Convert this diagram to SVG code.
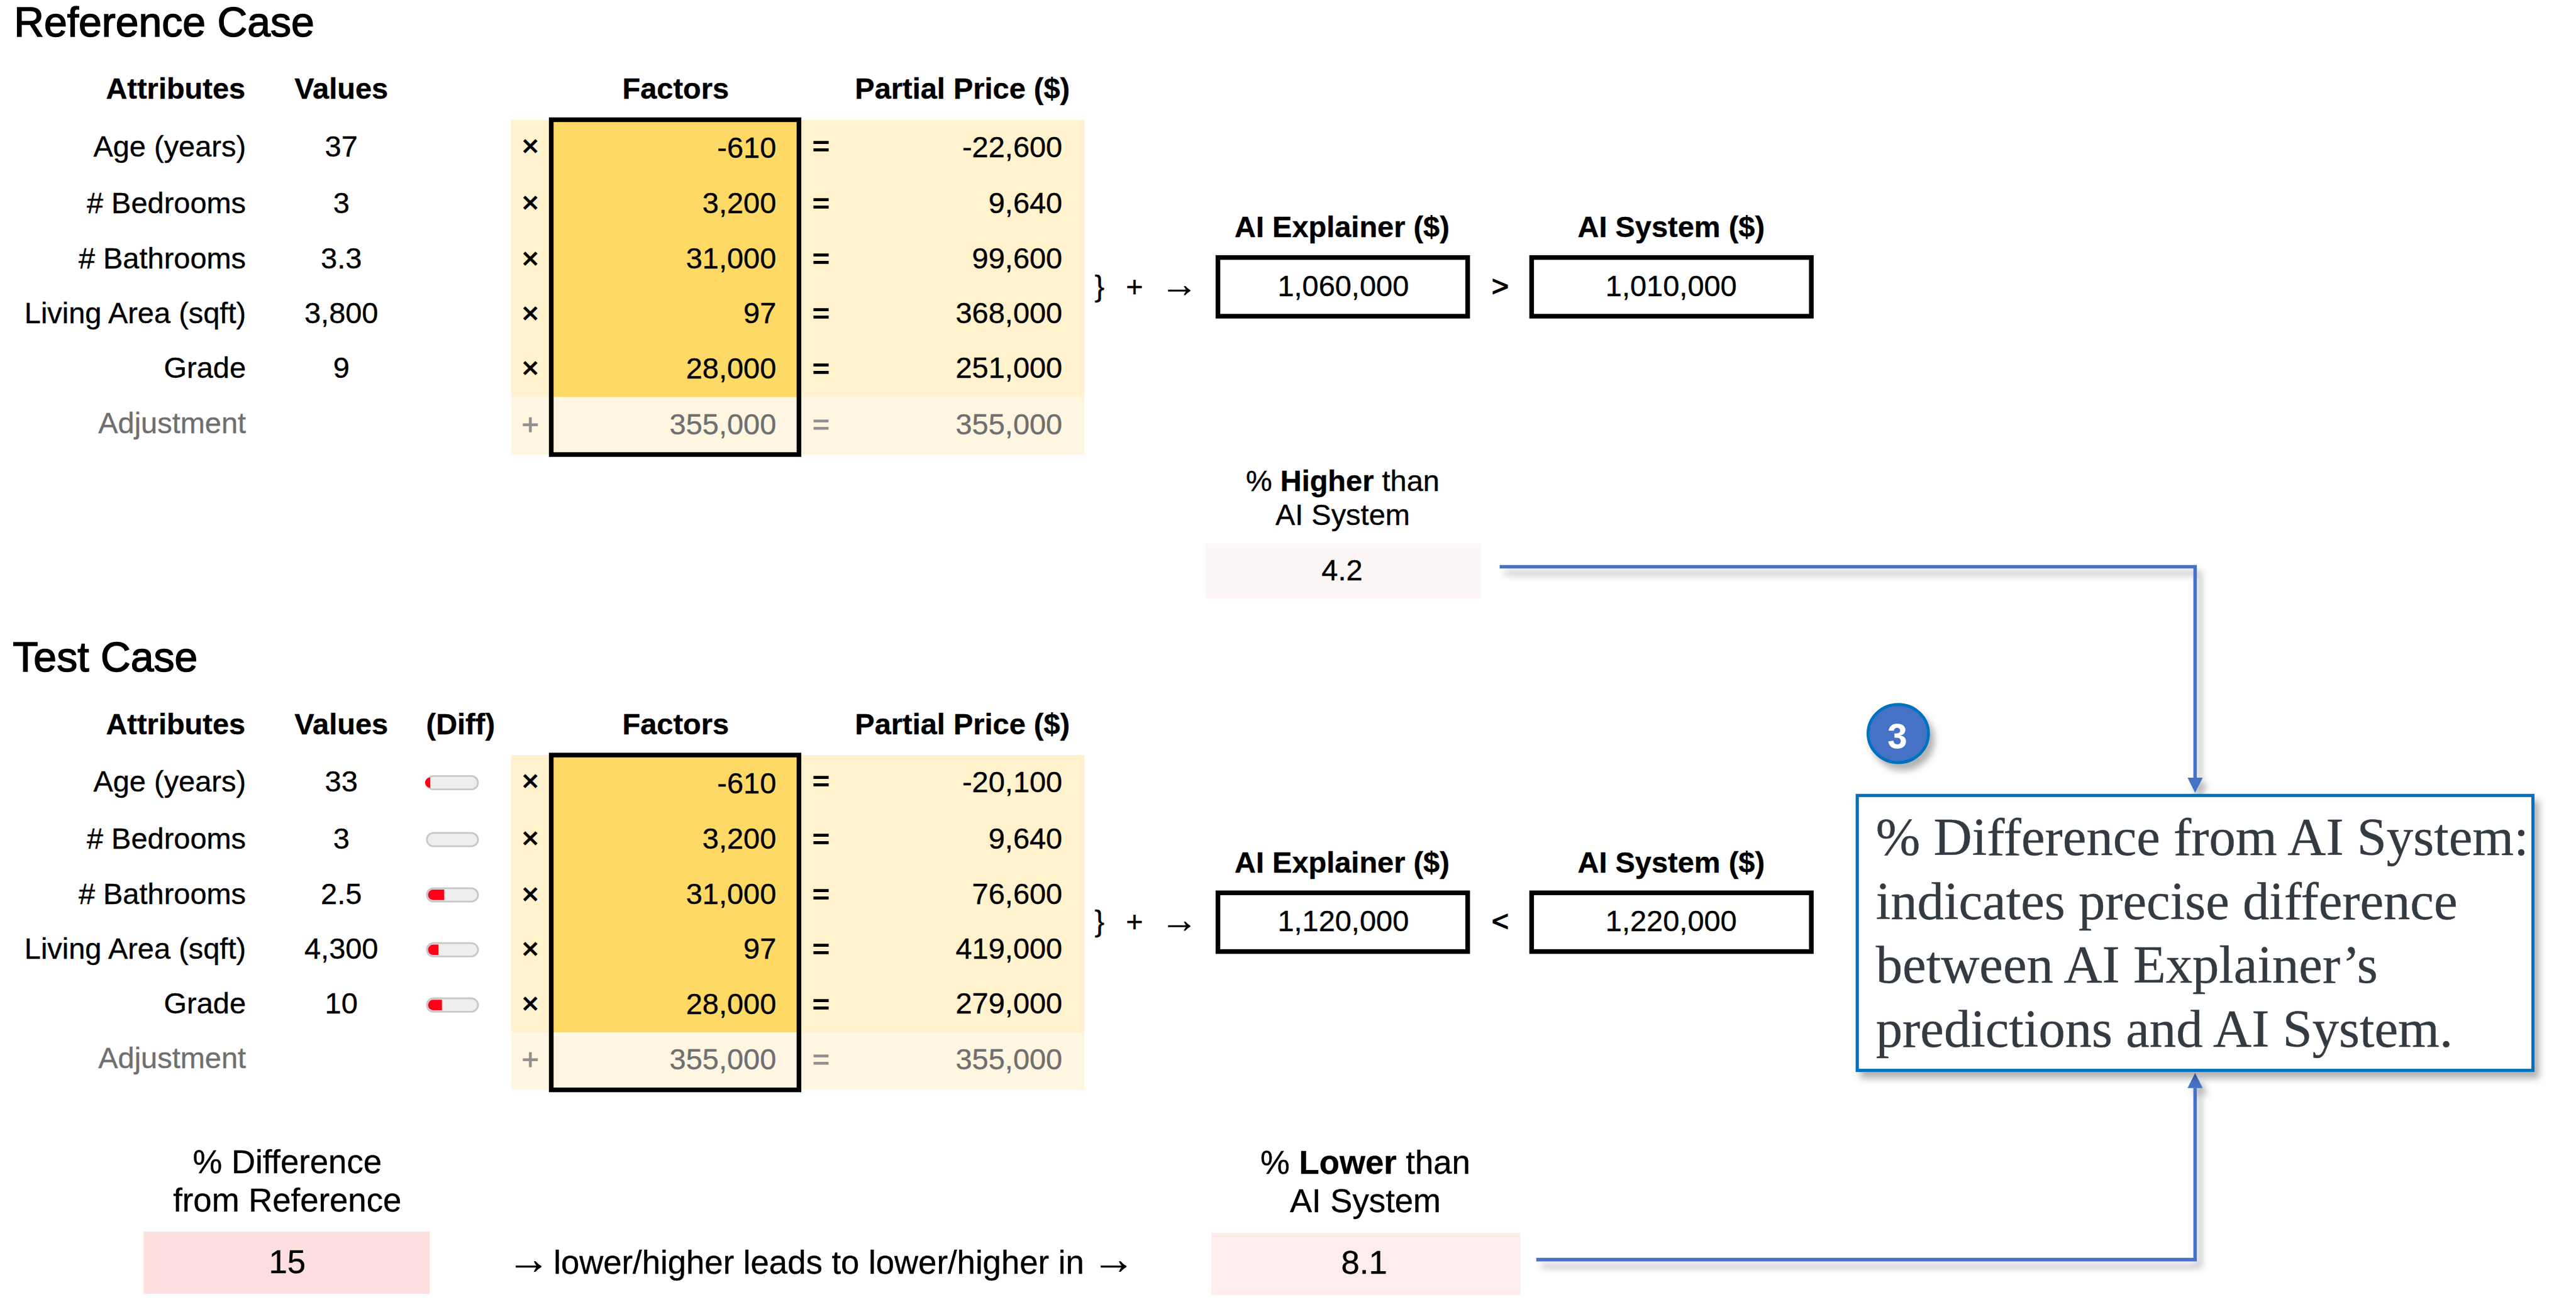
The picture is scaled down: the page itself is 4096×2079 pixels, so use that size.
<svg xmlns="http://www.w3.org/2000/svg" width="4096" height="2079" viewBox="0 0 4096 2079">
<style>
text{font-family:"Liberation Sans",Arial,sans-serif;font-size:50.8px;fill:#000;stroke:#000;stroke-width:.4}
.b{font-weight:700}
.e{text-anchor:end}
.m{text-anchor:middle}
.g{fill:#6f6f6f;stroke:#6f6f6f}
.s{fill:#8f8f8f;stroke:#8f8f8f;stroke-width:1}
.o{stroke-width:1.4}
.a{font-size:64px;stroke-width:.6}
.t{font-size:71.500px;stroke-width:1.6}
.l{font-size:57px}
.la{font-size:74px;stroke-width:.6}
.n{font-family:"Liberation Serif","Times New Roman",serif;font-size:91.600px;fill:#343a42;stroke:#343a42}
.bx{fill:none;stroke:#000;stroke-width:8}
.tr{fill:#eee;stroke:#c8c8c8;stroke-width:3}
.rd{fill:#fe0018}
.c{fill:none;stroke:#4472c4;stroke-width:6;marker-end:url(#ah)}
</style>
<defs>
<filter id="sh" filterUnits="userSpaceOnUse" x="0" y="0" width="4430" height="2249"><feDropShadow dx="8" dy="11" stdDeviation="6" flood-color="#000" flood-opacity=".3"/></filter>
<marker id="ah" markerUnits="userSpaceOnUse" markerWidth="26" markerHeight="26" refX="0" refY="13" orient="auto"><path d="M0,0L26,13L0,26z" fill="#4472c4"/></marker>
</defs>
<g transform="scale(.9246)">
<g id="connectors" filter="url(#sh)">
<path class="c" d="M2579,975H3775V1338"/>
<path class="c" d="M2642,2167H3775V1872"/>
</g>
<g id="reference-case">
<text class="t" x="24" y="62.500">Reference Case</text>
<g id="ref-table-bg">
<rect x="879" y="206" width="986" height="477" fill="#fff2cc"/>
<rect x="879" y="683" width="986" height="99" fill="#fff6e1"/>
<rect x="948" y="206" width="426" height="477" fill="#ffd966"/>
<rect class="bx" x="948" y="206" width="426" height="576"/>
</g>
<text class="b e" x="422" y="170">Attributes</text>
<text class="b m" x="587" y="170">Values</text>
<text class="b m" x="1162" y="170">Factors</text>
<text class="b e" x="1840" y="170">Partial Price ($)</text>
<text class="e" x="423" y="269">Age (years)</text><text class="m" x="587" y="269">37</text><text class="m o" x="912" y="268">×</text><text class="e" x="1335" y="272">-610</text><text class="m o" x="1412" y="268">=</text><text class="e" x="1827" y="270">-22,600</text>
<text class="e" x="423" y="367">#  Bedrooms</text><text class="m" x="587" y="367">3</text><text class="m o" x="912" y="366">×</text><text class="e" x="1335" y="367">3,200</text><text class="m o" x="1412" y="367">=</text><text class="e" x="1827" y="367">9,640</text>
<text class="e" x="423" y="462">#  Bathrooms</text><text class="m" x="587" y="462">3.3</text><text class="m o" x="912" y="462">×</text><text class="e" x="1335" y="462">31,000</text><text class="m o" x="1412" y="462">=</text><text class="e" x="1827" y="462">99,600</text>
<text class="e" x="423" y="556">Living Area (sqft)</text><text class="m" x="587" y="556">3,800</text><text class="m o" x="912" y="556">×</text><text class="e" x="1335" y="556">97</text><text class="m o" x="1412" y="556">=</text><text class="e" x="1827" y="556">368,000</text>
<text class="e" x="423" y="650">Grade</text><text class="m" x="587" y="650">9</text><text class="m o" x="912" y="650">×</text><text class="e" x="1335" y="651">28,000</text><text class="m o" x="1412" y="651">=</text><text class="e" x="1827" y="650">251,000</text>
<text class="e g" x="423" y="745">Adjustment</text><text class="m s" x="912" y="747">+</text><text class="e g" x="1335" y="747">355,000</text><text class="m s" x="1412" y="747">=</text><text class="e g" x="1827" y="747">355,000</text>
<text class="m" x="1891" y="509">}</text><text class="m" x="1951" y="510">+</text><text class="m a" x="2028" y="511">→</text>
<g id="ref-explainer"><text class="b m" x="2308" y="408">AI Explainer ($)</text><rect class="bx" x="2094.500" y="443" width="429.500" height="101"/><text class="m" x="2310" y="509">1,060,000</text></g>
<text class="m o" x="2580" y="509">&gt;</text>
<g id="ref-system"><text class="b m" x="2874" y="408">AI System ($)</text><rect class="bx" x="2634" y="443" width="481" height="101"/><text class="m" x="2874" y="509">1,010,000</text></g>
<g id="ref-higher"><text class="m" x="2309" y="845">% <tspan class="b">Higher</tspan> than</text><text class="m" x="2309" y="903">AI System</text><rect x="2073" y="935" width="473" height="94" fill="#fdf6f6"/><text class="m" x="2308" y="998">4.2</text></g>
</g>
<g id="test-case">
<text class="t" x="22" y="1155">Test Case</text>
<g id="test-table-bg">
<rect x="879" y="1299" width="986" height="477" fill="#fff2cc"/>
<rect x="879" y="1776" width="986" height="99" fill="#fff6e1"/>
<rect x="948" y="1299" width="426" height="477" fill="#ffd966"/>
<rect class="bx" x="948" y="1299" width="426" height="576"/>
</g>
<text class="b e" x="422" y="1263">Attributes</text>
<text class="b m" x="587" y="1263">Values</text>
<text class="b m" x="792" y="1263">(Diff)</text>
<text class="b m" x="1162" y="1263">Factors</text>
<text class="b e" x="1840" y="1263">Partial Price ($)</text>
<text class="e" x="423" y="1362">Age (years)</text><text class="m" x="587" y="1362">33</text><text class="m o" x="912" y="1361">×</text><text class="e" x="1335" y="1365">-610</text><text class="m o" x="1412" y="1361">=</text><text class="e" x="1827" y="1363">-20,100</text>
<text class="e" x="423" y="1460">#  Bedrooms</text><text class="m" x="587" y="1460">3</text><text class="m o" x="912" y="1459">×</text><text class="e" x="1335" y="1460">3,200</text><text class="m o" x="1412" y="1460">=</text><text class="e" x="1827" y="1460">9,640</text>
<text class="e" x="423" y="1555">#  Bathrooms</text><text class="m" x="587" y="1555">2.5</text><text class="m o" x="912" y="1555">×</text><text class="e" x="1335" y="1555">31,000</text><text class="m o" x="1412" y="1555">=</text><text class="e" x="1827" y="1555">76,600</text>
<text class="e" x="423" y="1649">Living Area (sqft)</text><text class="m" x="587" y="1649">4,300</text><text class="m o" x="912" y="1649">×</text><text class="e" x="1335" y="1649">97</text><text class="m o" x="1412" y="1649">=</text><text class="e" x="1827" y="1649">419,000</text>
<text class="e" x="423" y="1743">Grade</text><text class="m" x="587" y="1743">10</text><text class="m o" x="912" y="1743">×</text><text class="e" x="1335" y="1744">28,000</text><text class="m o" x="1412" y="1744">=</text><text class="e" x="1827" y="1743">279,000</text>
<text class="e g" x="423" y="1838">Adjustment</text><text class="m s" x="912" y="1840">+</text><text class="e g" x="1335" y="1840">355,000</text><text class="m s" x="1412" y="1840">=</text><text class="e g" x="1827" y="1840">355,000</text>
<g id="diff-bars">
<rect class="tr" x="734" y="1335" width="88" height="23" rx="11.500"/><path class="rd" d="M740,1337.500V1355.500A9,9 0 0 1 740,1337.500Z"/>
<rect class="tr" x="734" y="1433" width="88" height="23" rx="11.500"/>
<rect class="tr" x="734" y="1528" width="88" height="23" rx="11.500"/><path class="rd" d="M764,1530.500V1548.500H745A9,9 0 0 1 745,1530.500Z"/>
<rect class="tr" x="734" y="1622.500" width="88" height="23" rx="11.500"/><path class="rd" d="M754,1625V1643H745A9,9 0 0 1 745,1625Z"/>
<rect class="tr" x="734" y="1717.500" width="88" height="23" rx="11.500"/><path class="rd" d="M760,1720V1738H745A9,9 0 0 1 745,1720Z"/>
</g>
<text class="m" x="1891" y="1602">}</text><text class="m" x="1951" y="1603">+</text><text class="m a" x="2028" y="1604">→</text>
<g id="test-explainer"><text class="b m" x="2308" y="1501">AI Explainer ($)</text><rect class="bx" x="2094.500" y="1536" width="429.500" height="101"/><text class="m" x="2310" y="1602">1,120,000</text></g>
<text class="m o" x="2580" y="1602">&lt;</text>
<g id="test-system"><text class="b m" x="2874" y="1501">AI System ($)</text><rect class="bx" x="2634" y="1536" width="481" height="101"/><text class="m" x="2874" y="1602">1,220,000</text></g>
<g id="test-reference-diff"><text class="l m" x="494" y="2018">% Difference</text><text class="l m" x="494" y="2084">from Reference</text><rect x="247" y="2119" width="492" height="107" fill="#fddfdf"/><text class="l m" x="494" y="2190">15</text></g>
<text class="la" x="872" y="2191">→</text><text class="l" x="952" y="2191">lower/higher leads to lower/higher in</text><text class="la" x="1878" y="2191">→</text>
<g id="test-lower"><text class="l m" x="2348" y="2019">% <tspan class="b">Lower</tspan> than</text><text class="l m" x="2348" y="2085">AI System</text><rect x="2083" y="2121" width="532" height="107" fill="#fdeded"/><text class="l m" x="2346" y="2191">8.1</text></g>
</g>
<g id="note">
<rect x="3194" y="1368.500" width="1162" height="473" fill="#fff" stroke="#0070c0" stroke-width="5.500" filter="url(#sh)"/>
<text class="n" x="3226" y="1471">% Difference from AI System:</text>
<text class="n" x="3226" y="1581">indicates precise difference</text>
<text class="n" x="3226" y="1691">between AI Explainer’s</text>
<text class="n" x="3226" y="1801">predictions and AI System.</text>
</g>
<g id="badge">
<ellipse cx="3264.500" cy="1262" rx="52" ry="50" fill="#4472c4" stroke="#0070c0" stroke-width="5" filter="url(#sh)"/>
<text class="b m" x="3263" y="1287" style="font-size:60px;fill:#fff;stroke:#fff">3</text>
</g>
</g>
</svg>
